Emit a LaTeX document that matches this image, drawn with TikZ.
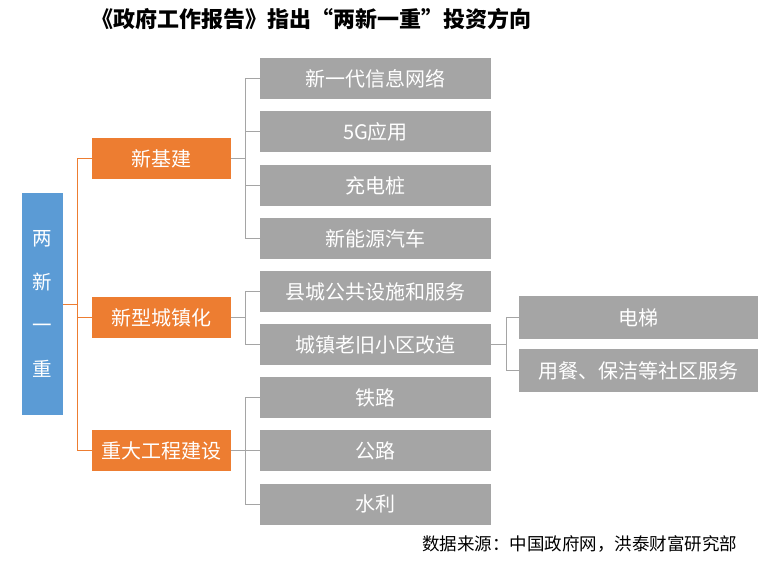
\documentclass[tikz,border=0pt]{standalone}
\usepackage{fontspec}
\setmainfont{Noto Sans CJK SC}
\usepackage{tikz}
\usetikzlibrary{positioning}
\usetikzlibrary{arrows.meta}

\definecolor{zorange}{HTML}{ED7D31}
\definecolor{zblue}{HTML}{5B9BD5}
\definecolor{zgray}{HTML}{A5A5A5}

\tikzset{
    rootbox/.style={fill=zblue, text=white, minimum width=41pt, minimum height=222pt, inner sep=0pt, align=center, font=\fontsize{19.5}{43.7}\selectfont},
    catbox/.style={fill=zorange, text=white, minimum width=139pt, minimum height=41pt, inner sep=0pt, font=\fontsize{20}{22}\selectfont},
    itembox/.style={fill=zgray, text=white, minimum width=231pt, minimum height=41pt, inner sep=0pt, font=\fontsize{20}{22}\selectfont},
    subbox/.style={fill=zgray, text=white, minimum width=239pt, minimum height=43pt, inner sep=0pt, font=\fontsize{20}{22}\selectfont},
    orangeline/.style={draw=zorange, line width=1pt},
    grayline/.style={draw=zgray, line width=1pt}
}

\begin{document}
\begin{tikzpicture}[x=1pt, y=-1pt]
    \useasboundingbox (0, 0) rectangle (767, 562); % same size as the page

    \node[font=\fontsize{22}{26}\selectfont\bfseries] (title) at (311.5, 19) {《政府工作报告》指出“两新一重”投资方向};

    \node[rootbox] (root) at (42.5, 304) {两\\新\\一\\重};

    % the three directions
    \node[catbox] (jj) at (161.5, 158.5) {新基建};
    \node[catbox] (cz) at (161.5, 317.5) {新型城镇化};
    \node[catbox] (zd) at (161.5, 450.5) {重大工程建设};

    % the items of each direction
    \node[itembox] (wl) at (375.5, 78.5) {新一代信息网络};
    \node[itembox] (fiveg) at (375.5, 131.5) {5G应用};
    \node[itembox] (cdz) at (375.5, 185.5) {充电桩};
    \node[itembox] (xny) at (375.5, 238.5) {新能源汽车};
    \node[itembox] (xc) at (375.5, 291.5) {县城公共设施和服务};
    \node[itembox] (lj) at (375.5, 344.5) {城镇老旧小区改造};
    \node[itembox] (tl) at (375.5, 397.5) {铁路};
    \node[itembox] (gl) at (375.5, 450.5) {公路};
    \node[itembox] (sl) at (375.5, 504) {水利};

    \node[subbox] (dt) at (638.5, 317.5) {电梯};
    \node[subbox] (yc) at (638.5, 370.5) {用餐、保洁等社区服务};

    % connectors
    \draw[orangeline] (root.east) -- ++(14, 0) |- (jj.west);
    \draw[orangeline] (root.east) -- ++(14, 0) |- (cz.west);
    \draw[orangeline] (root.east) -- ++(14, 0) |- (zd.west);

    \draw[grayline] (jj.east) -- ++(14, 0) |- (wl.west);
    \draw[grayline] (jj.east) -- ++(14, 0) |- (fiveg.west);
    \draw[grayline] (jj.east) -- ++(14, 0) |- (cdz.west);
    \draw[grayline] (jj.east) -- ++(14, 0) |- (xny.west);

    \draw[grayline] (cz.east) -- ++(14, 0) |- (xc.west);
    \draw[grayline] (cz.east) -- ++(14, 0) |- (lj.west);

    \draw[grayline] (zd.east) -- ++(14, 0) |- (tl.west);
    \draw[grayline] (zd.east) -- ++(14, 0) |- (gl.west);
    \draw[grayline] (zd.east) -- ++(14, 0) |- (sl.west);

    \draw[grayline] (lj.east) -- ++(15, 0) |- (dt.west);
    \draw[grayline] (lj.east) -- ++(15, 0) |- (yc.west);

    \node[font=\fontsize{17.5}{22}\selectfont, anchor=east] (source) at (741, 544) {数据来源：中国政府网，洪泰财富研究部};
\end{tikzpicture}
\end{document}
